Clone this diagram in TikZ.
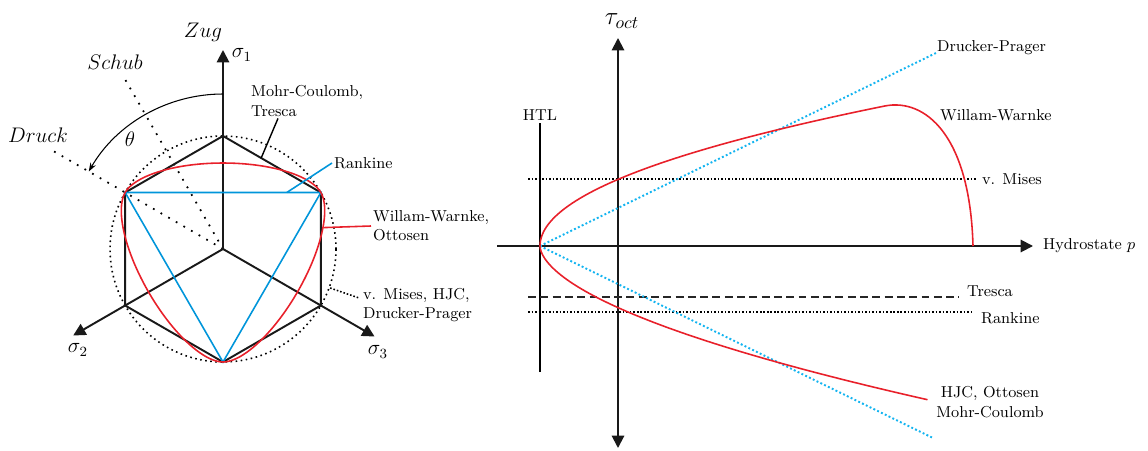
\documentclass[tikz,border=0pt]{standalone}
\usepackage{amsmath,amssymb}
\usepackage{tikz}
\usetikzlibrary{arrows.meta,calc}
\usepackage{xcolor}
\definecolor{wwred}{HTML}{E8202A}
\definecolor{rkblue}{HTML}{0095DA}
\definecolor{dpblue}{HTML}{14B4F0}

\begin{document}
\begin{tikzpicture}[x=0.02cm, y=0.02cm,
  >={Triangle[length=7pt,width=7pt]},
  declare function={lode(\p)=60-abs(mod(\p+270,120)-60);
    wwc(\p)=cos(lode(\p));
    wwr(\p)=(0.8418*wwc(\p)+0.522*sqrt(1.6836*wwc(\p)^2-0.1484))/(1.6836*wwc(\p)^2+0.2725);},
  axisline/.style={line width=1.1pt, black!90},
  hexline/.style={line width=1.1pt, black!90},
  rkline/.style={line width=0.9pt, rkblue},
  wwline/.style={line width=0.9pt, wwred},
  dpline/.style={line width=1.1pt, dpblue, dash pattern=on 1.1pt off 1.3pt},
  densedots/.style={line width=0.9pt, dash pattern=on 0.9pt off 1.1pt},
  widedots/.style={line width=1pt, dash pattern=on 1pt off 4pt},
  leader/.style={line width=0.8pt},
  lbl/.style={font=\small, inner sep=1pt},
  mathlbl/.style={font=\large, inner sep=0pt}]
  \useasboundingbox (0,0) rectangle (1148,450);

  % deviatoric plane
  \coordinate (O) at (223,201);
  \foreach \a in {30,90,...,330}
    \coordinate (h\a) at ($(O)+(\a:113)$);
  \coordinate (s1) at ($(O)+(90:199)$);
  \coordinate (s2) at ($(O)+(210:173)$);
  \coordinate (s3) at ($(O)+(330:175)$);
  \coordinate (schub) at ($(O)+(120:200)$);
  \coordinate (druck) at ($(O)+(150:200)$);
  \draw[line width=0.9pt, dotted] (O) circle (113);
  \draw[widedots] (O) -- (schub);
  \draw[widedots] (O) -- (druck);
  \draw[hexline] (h30) -- (h90) -- (h150) -- (h210) -- (h270) -- (h330) -- cycle;
  \draw[axisline, ->] (O) -- (s1);
  \draw[axisline, ->] (O) -- (s2);
  \draw[axisline, ->] (O) -- (s3);
  \draw[rkline] (h150) -- (h30) -- (h270) -- cycle;
  \begin{scope}[shift={(223,201)}]
    \draw[wwline] plot[domain=0:360, samples=241] (\x:{113*wwr(\x)}) -- cycle;
  \end{scope}
  \draw[line width=0.6pt, -{Stealth[length=5pt,width=3.5pt]}]
    ($(O)+(90:155)$) arc[start angle=90, end angle=150, radius=155];
  \node[mathlbl] (zuglab) at (203,418) {$Zug$};
  \node[mathlbl] (s1lab) at (242,395) {$\sigma_1$};
  \node[mathlbl] (s2lab) at (78,100) {$\sigma_2$};
  \node[mathlbl] (s3lab) at (378,98) {$\sigma_3$};
  \node[mathlbl] (schublab) at (115,388) {$Schub$};
  \node[mathlbl] (drucklab) at (38,315) {$Druck$};
  \node[mathlbl] (thetalab) at (130,311) {$\theta$};

  \node[lbl, anchor=west, align=left] (mclab) at (249,349) {Mohr-Coulomb,\\Tresca};
  \coordinate (mcpt) at ($(h90)!0.39!(h30)$);
  \draw[leader] (mcpt) -- ($(mclab.south west)+(29,0)$);
  \node[lbl, anchor=west] (rklab) at (332,287) {Rankine};
  \coordinate (rkpt) at ($(h150)!0.826!(h30)$);
  \draw[leader, rkblue, line width=0.9pt] (rkpt) -- (rklab.west);
  \node[lbl, anchor=west, align=left] (wwlab) at (371,224) {Willam-Warnke,\\Ottosen};
  \coordinate (wwpt) at ($(O)+(12:103)$);
  \draw[leader, wwred, line width=0.9pt] (wwpt) -- (wwlab.west);
  \node[lbl, anchor=west, align=left] (vmlab) at (361,145) {v. Mises, HJC,\\Drucker-Prager};
  \coordinate (vmpt) at ($(O)+(-20:114)$);
  \draw[densedots] (vmpt) -- ($(vmlab.west)+(-2,7)$);

  % meridian plane
  \coordinate (apex) at (540,204);
  \coordinate (pstart) at (497,204);
  \coordinate (pend) at (1033,204);
  \coordinate (tbot) at (618,2);
  \coordinate (ttop) at (618,412);
  \coordinate (htlbot) at (540,78);
  \coordinate (htltop) at (540,327);
  \draw[line width=0.7pt] (htlbot) -- (htltop);
  \node[lbl, above] (htllab) at (htltop) {HTL};
  \draw[axisline, ->] (pstart) -- (pend);
  \draw[axisline, <->] (tbot) -- (ttop);
  \node[mathlbl, font=\Large] (taulab) at (622,429) {$\tau_{oct}$};
  \node[lbl, anchor=west] (plab) at (1041,204) {Hydrostate $p$};

  \draw[densedots] (528,271) -- (977,271);
  \draw[line width=1.1pt, black!85, dash pattern=on 4.5pt off 2.5pt] (528,153) -- (959,153);
  \draw[densedots] (528,138) -- (973,138);
  \draw[dpline] (apex) -- (936,397);
  \draw[dpline] (apex) -- (933,12);
  \draw[wwline] plot[domain=153.7:0.2, samples=60, smooth] ({540+(\x/5.14)^1.754},{204-\x})
    -- (apex)
    -- plot[domain=0:140, samples=60, smooth] ({540+(\x/7.54)^2},{204+\x})
    .. controls (925,352) and (970,315) .. (973,204);

  \node[lbl, anchor=west] (dplab) at (935,402) {Drucker-Prager};
  \node[lbl, anchor=west] (wwrlab) at (938,335) {Willam-Warnke};
  \node[lbl, anchor=west] (vmrlab) at (980,271) {v. Mises};
  \node[lbl, anchor=west] (trlab) at (965,159) {Tresca};
  \node[lbl, anchor=west] (rkrlab) at (979,132) {Rankine};
  \node[lbl, align=center] (hjclab) at (990,48) {HJC, Ottosen\\Mohr-Coulomb};
\end{tikzpicture}
\end{document}
